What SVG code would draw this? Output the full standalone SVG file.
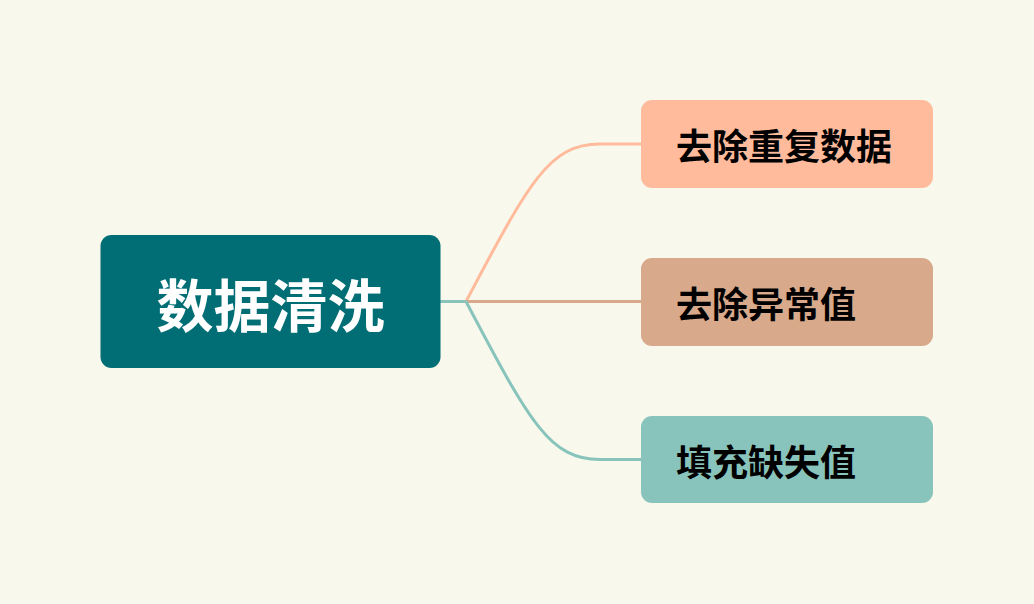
<svg xmlns="http://www.w3.org/2000/svg" width="1034" height="604" viewBox="0 0 1034 604">
<style>
.bg{fill:#f8f8ec}
.conn{fill:none;stroke-width:3;stroke-linecap:round}
.t{font-family:"Noto Sans CJK SC","Noto Sans",sans-serif;font-weight:bold;dominant-baseline:central}
.sub{font-size:36px;fill:#000}
.root{font-size:57px;fill:#fff}
</style>
<rect class="bg" x="0" y="0" width="1034" height="604"/>
<g id="connectors">
<path class="conn" stroke="#88c4bc" d="M440,301.5 L466,301.5"/>
<path class="conn" stroke="#ffbb9b" d="M466,301.5 C530,180 550,144 600,144 L641,144"/>
<path class="conn" stroke="#d8a98a" d="M466,301.5 L641,301.5"/>
<path class="conn" stroke="#88c4bc" d="M466,301.5 C530,423 550,459.5 600,459.5 L641,459.5"/>
</g>
<g id="root">
<rect x="100.5" y="235" width="340" height="133" rx="11" fill="#006e74"/>
<text class="t root" x="270.5" y="301.5" text-anchor="middle">数据清洗</text>
</g>
<g id="n1">
<rect x="641" y="100" width="292" height="88" rx="11" fill="#ffbb9b"/>
<text class="t sub" x="676" y="144">去除重复数据</text>
</g>
<g id="n2">
<rect x="641" y="258" width="292" height="88" rx="11" fill="#d8a98a"/>
<text class="t sub" x="676" y="302">去除异常值</text>
</g>
<g id="n3">
<rect x="641" y="416" width="292" height="87" rx="11" fill="#88c4bc"/>
<text class="t sub" x="676" y="459.5">填充缺失值</text>
</g>
</svg>
